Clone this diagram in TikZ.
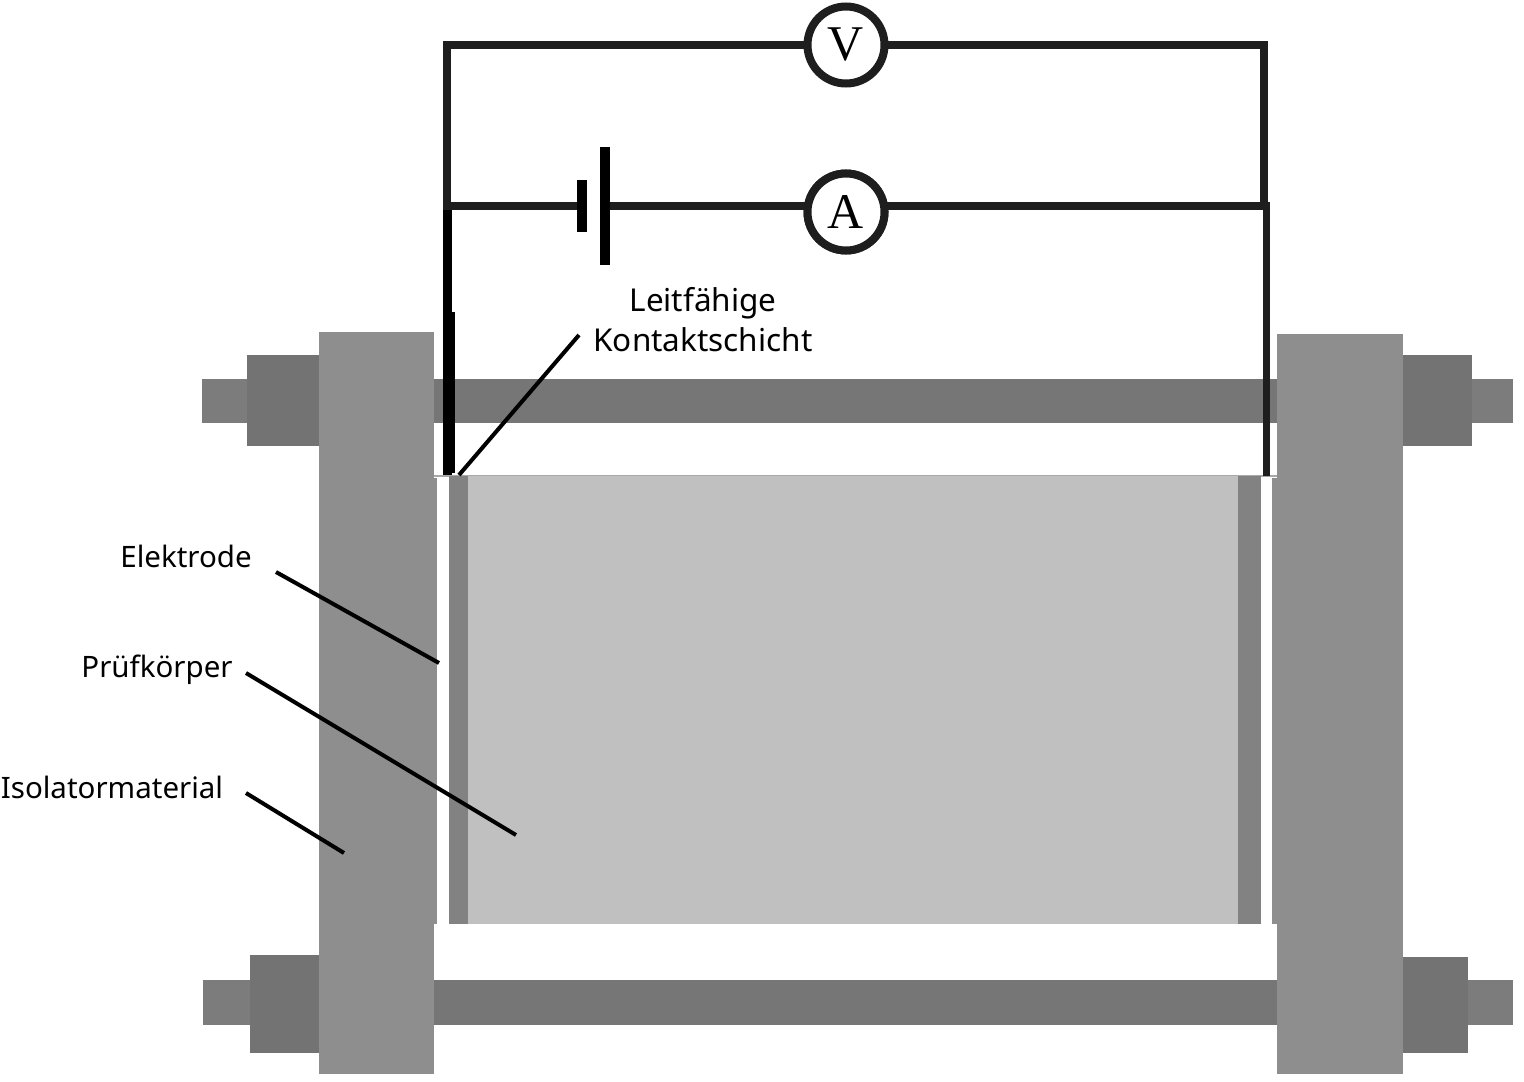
\documentclass[tikz,border=0pt]{standalone}
\usepackage{fontspec}
\setmainfont{Noto Sans}
\newfontfamily\meterfont{Liberation Serif}
\definecolor{plate}{HTML}{8E8E8E}
\definecolor{rod}{HTML}{767676}
\definecolor{nut}{HTML}{737373}
\definecolor{bolt}{HTML}{7C7C7C}
\definecolor{contact}{HTML}{828282}
\definecolor{specimen}{HTML}{C0C0C0}
\definecolor{wire}{HTML}{1E1E1E}
\definecolor{edgegrey}{HTML}{A8A8A8}
\tikzset{
  x=1pt,y=-1pt,
  wireline/.style={draw=wire,line width=8pt},
  leader/.style={draw=black,line width=4pt},
  meter/.style={circle,draw=wire,line width=8pt,fill=white,minimum size=77pt,inner sep=0pt,font=\meterfont\fontsize{50}{50}\selectfont,text=black},
  callout/.style={inner sep=0pt,font=\fontsize{29.5}{40}\selectfont,text=black,align=center},
  topcallout/.style={inner sep=0pt,font=\fontsize{31.5}{40}\selectfont,text=black,align=center},
  batteryplate/.style={fill=black,inner sep=0pt,minimum width=10pt},
}
\begin{document}
\begin{tikzpicture}
\useasboundingbox[fill=white] (0,0) rectangle (1524,1082);
% rods
\fill[rod] (434,379) rectangle (1277,423);
\fill[rod] (434,980) rectangle (1277,1025);
% left hardware
\fill[bolt] (202,379) rectangle (247,423);
\fill[nut] (247,355) rectangle (319,446);
\fill[bolt] (203,980) rectangle (250,1025);
\fill[nut] (250,955) rectangle (319,1053);
% right hardware
\fill[nut] (1403,355) rectangle (1472,446);
\fill[bolt] (1472,379) rectangle (1513,423);
\fill[nut] (1403,957) rectangle (1468,1053);
\fill[bolt] (1468,980) rectangle (1513,1025);
% insulator plates
\fill[plate] (319,332) rectangle (434,1074);
\fill[plate] (1277,334) rectangle (1403,1074);
\fill[plate] (434,478) rectangle (437,924);
\fill[plate] (1272,478) rectangle (1277,924);
% specimen, contact layers
\fill[edgegrey] (434,475) rectangle (1277,477);
\fill[white] (437,477) rectangle (449,923);
\fill[white] (1261,477) rectangle (1272,923);
\fill[specimen] (468,476) rectangle (1238,924);
\fill[contact] (449,476) rectangle (468,924);
\fill[contact] (1238,476) rectangle (1261,924);
% circuit
\coordinate (tl) at (447,46);
\coordinate (tr) at (1264,46);
\coordinate (ml) at (447,206);
\coordinate (mr) at (1264,206);
\coordinate (bl) at (447,210);
\coordinate (bl2) at (447,475);
\coordinate (bl3) at (449,312);
\coordinate (bl4) at (449,473);
\coordinate (br1) at (1266,202);
\coordinate (br2) at (1266,476);
\node[meter] (V) at (846,45) {V};
\node[meter] (A) at (846,212) {A};
\node[batteryplate,minimum height=52pt] (bs) at (582,206) {};
\node[batteryplate,minimum height=118pt] (bb) at (605,206) {};
\draw[wireline,line cap=rect] (V) -| (tl) -- (ml);
\draw[wireline,line cap=rect] (V) -| (tr) -- (mr);
\draw[wireline] (ml) -- (bs);
\draw[wireline] (bb) -- (A |- bb);
\draw[wireline] (A |- mr) -- (mr);
\draw[draw=black,line width=9pt] (bl) -- (bl2);
\draw[draw=black,line width=12pt] (bl3) -- (bl4);
\draw[draw=wire,line width=7pt] (br1) -- (br2);
\node[meter] at (A) {A};
% labels
\node[topcallout] (lk) at (703,320) {Leitfähige\\Kontaktschicht};
\node[callout] (le) at (186,556) {Elektrode};
\node[callout] (lp) at (157,670) {Prüfkörper};
\node[callout] (li) at (112,787) {Isolatormaterial};
\coordinate (ck1) at (579,335);
\coordinate (ck2) at (459,475);
\coordinate (ce1) at (276,572);
\coordinate (ce2) at (439,663);
\coordinate (cp1) at (246,673);
\coordinate (cp2) at (516,835);
\coordinate (ci1) at (246,793);
\coordinate (ci2) at (344,853);
\draw[leader] (ck1) -- (ck2);
\draw[leader] (ce1) -- (ce2);
\draw[leader] (cp1) -- (cp2);
\draw[leader] (ci1) -- (ci2);
\end{tikzpicture}
\end{document}
